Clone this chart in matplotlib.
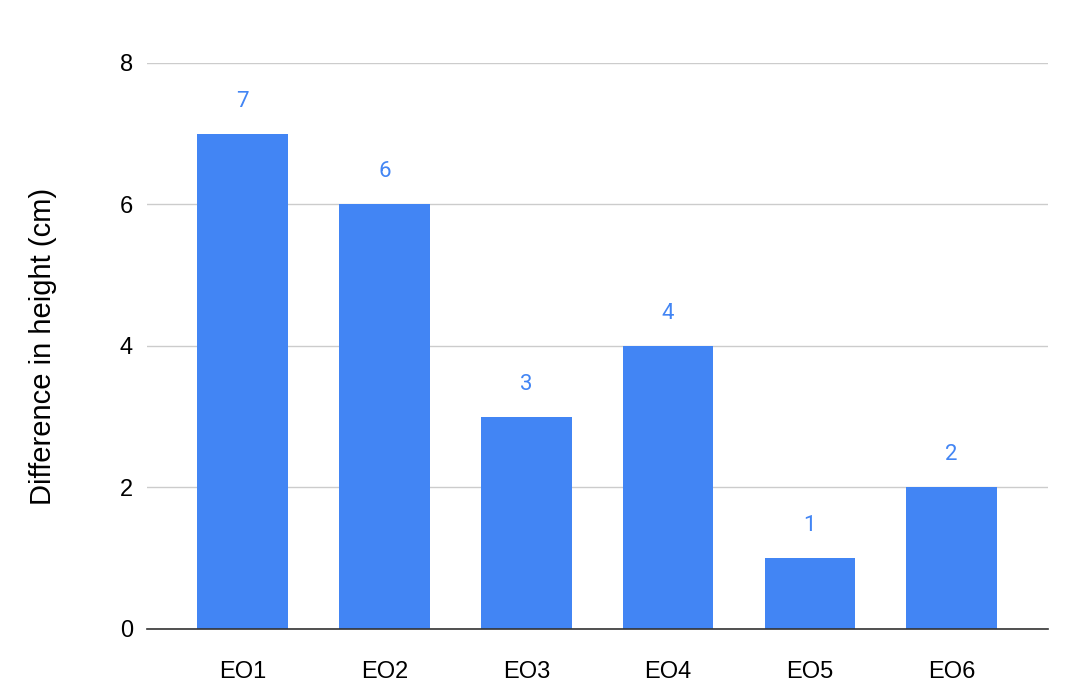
import matplotlib
matplotlib.use("Agg")
import matplotlib.pyplot as plt

categories = ["EO1", "EO2", "EO3", "EO4", "EO5", "EO6"]
values = [7, 6, 3, 4, 1, 2]
yticks = [0, 2, 4, 6, 8]

plt.rcParams['font.family'] = ['Liberation Sans', 'DejaVu Sans']

BLUE = "#4285F4"

fig = plt.figure(figsize=(10.8, 6.96), dpi=100)
ax = fig.add_axes([0.136, 0.0963, 0.834, 0.8132])

x = range(len(categories))
bars = ax.bar(x, values, width=0.64, color=BLUE, zorder=3)

for xi, v in zip(x, values):
    ax.annotate(str(v), (xi, v), xytext=(0, 16), textcoords="offset points",
                ha="center", va="bottom", color=BLUE, fontsize=16,
                family=["Roboto", "DejaVu Sans"])

ax.set_xlim(-0.677, len(categories) - 1 + 0.677)
ax.set_ylim(0, 8)
ax.set_yticks(yticks)
ax.set_xticks(list(x))
ax.set_xticklabels(categories)
ax.tick_params(axis="both", length=0, labelsize=17, colors="#000000")
ax.tick_params(axis="x", pad=23)
ax.tick_params(axis="y", pad=10)
ax.grid(axis="y", color="#cccccc", linewidth=1, zorder=0)
for s in ["top", "right", "left"]:
    ax.spines[s].set_visible(False)
ax.spines["bottom"].set_color("#333333")
ax.spines["bottom"].set_linewidth(1.2)
ax.spines["bottom"].set_zorder(4)

ax.set_ylabel("Difference in height (cm)", fontsize=21, labelpad=45)

fig.savefig("out.png", dpi=100)
